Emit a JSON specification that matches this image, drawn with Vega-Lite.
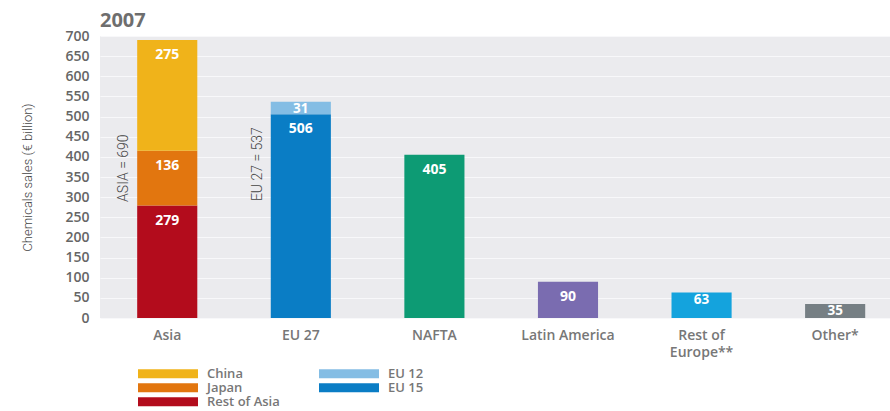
{
  "$schema": "https://vega.github.io/schema/vega-lite/v6.json",
  "width": 790,
  "height": 282,
  "autosize": "none",
  "padding": {"left": 100, "top": 36, "right": 0, "bottom": 93},
  "background": "white",
  "title": {"text": "2007", "anchor": "start", "frame": "group", "fontSize": 20, "fontWeight": "bold", "color": "#6e6e6e", "font": "Open Sans", "baseline": "alphabetic", "offset": 9, "dy": 27},
  "config": {
    "view": {"fill": "#ebebee", "stroke": null},
    "font": "Open Sans",
    "axisY": {
      "domain": false, "ticks": false, "labelOverlap": false,
      "labelFontSize": 14, "labelFontWeight": 600, "labelColor": "#666666", "labelPadding": 11,
      "gridColor": "#f8f8fa", "gridWidth": 1,
      "titleFont": "Roboto", "titleFontWeight": 300, "titleFontSize": 13,
      "titleColor": "#444444", "titlePadding": 30
    }
  },
  "datasets": {
    "bars": [
      {"region": "Asia", "part": "Rest of Asia", "value": 279, "order": 1},
      {"region": "Asia", "part": "Japan", "value": 136, "order": 2},
      {"region": "Asia", "part": "China", "value": 275, "order": 3},
      {"region": "EU 27", "part": "EU 15", "value": 506, "order": 1},
      {"region": "EU 27", "part": "EU 12", "value": 31, "order": 2},
      {"region": "NAFTA", "part": "NAFTA", "value": 405, "order": 1},
      {"region": "Latin America", "part": "Latin America", "value": 90, "order": 1},
      {"region": "Rest of Europe**", "part": "Rest of Europe", "value": 63, "order": 1},
      {"region": "Other*", "part": "Other", "value": 35, "order": 1}
    ],
    "notes": [
      {"region": "Asia", "label": "ASIA = 690", "at": 372},
      {"region": "EU 27", "label": "EU 27 = 537", "at": 382}
    ]
  },
  "encoding": {
    "x": {
      "field": "region", "type": "nominal",
      "sort": ["Asia", "EU 27", "NAFTA", "Latin America", "Rest of Europe**", "Other*"],
      "scale": {"paddingInner": 0.55, "paddingOuter": 0.232, "align": 0.6},
      "axis": {
        "title": null, "domain": false, "ticks": false, "labelAngle": 0,
        "labelFontSize": 14, "labelFontWeight": 600, "labelColor": "#777777",
        "labelPadding": 10, "labelLineHeight": 17, "labelBaseline": "top",
        "labelExpr": "datum.value == 'Rest of Europe**' ? ['Rest of', 'Europe**'] : datum.value"
      }
    }
  },
  "layer": [
    {
      "data": {"name": "bars"},
      "transform": [
        {"stack": "value", "groupby": ["region"], "sort": [{"field": "order"}], "as": ["v0", "v1"]},
        {"filter": "datum.region == 'Asia'"}
      ],
      "mark": {"type": "bar"},
      "encoding": {
        "y": {
          "field": "v1", "type": "quantitative",
          "scale": {"domain": [0, 700], "nice": false},
          "axis": {"title": "Chemicals sales (€ billion)", "values": [0, 50, 100, 150, 200, 250, 300, 350, 400, 450, 500, 550, 600, 650, 700], "labelOverlap": false}
        },
        "y2": {"field": "v0"},
        "color": {
          "field": "part", "type": "nominal",
          "scale": {"domain": ["China", "Japan", "Rest of Asia"], "range": ["#f0b31a", "#e2760f", "#b30c1c"]},
          "legend": {
            "title": null, "orient": "none", "legendX": 38, "legendY": 331,
            "symbolType": "M-1,-0.15H1V0.15H-1Z", "symbolSize": 3600, "symbolStrokeWidth": 0, "symbolOpacity": 1,
            "clipHeight": 13.5, "rowPadding": 0, "labelOffset": 9,
            "labelFontSize": 13, "labelFontWeight": 600, "labelColor": "#777777"
          }
        }
      }
    },
    {
      "data": {"name": "bars"},
      "transform": [
        {"stack": "value", "groupby": ["region"], "sort": [{"field": "order"}], "as": ["v0", "v1"]},
        {"filter": "datum.region == 'EU 27'"}
      ],
      "mark": {"type": "bar"},
      "encoding": {
        "y": {"field": "v1", "type": "quantitative", "axis": {"title": "Chemicals sales (€ billion)", "values": [0, 50, 100, 150, 200, 250, 300, 350, 400, 450, 500, 550, 600, 650, 700], "labelOverlap": false}},
        "y2": {"field": "v0"},
        "color": {
          "field": "part", "type": "nominal",
          "scale": {"domain": ["EU 12", "EU 15"], "range": ["#84bde4", "#0a7dc5"]},
          "legend": {
            "title": null, "orient": "none", "legendX": 219, "legendY": 331,
            "symbolType": "M-1,-0.15H1V0.15H-1Z", "symbolSize": 3600, "symbolStrokeWidth": 0, "symbolOpacity": 1,
            "clipHeight": 13.5, "rowPadding": 0, "labelOffset": 9,
            "labelFontSize": 13, "labelFontWeight": 600, "labelColor": "#777777"
          }
        }
      }
    },
    {
      "data": {"name": "bars"},
      "transform": [
        {"stack": "value", "groupby": ["region"], "sort": [{"field": "order"}], "as": ["v0", "v1"]},
        {"filter": "datum.region != 'Asia' && datum.region != 'EU 27'"}
      ],
      "mark": {"type": "bar"},
      "encoding": {
        "y": {"field": "v1", "type": "quantitative", "axis": {"title": "Chemicals sales (€ billion)", "values": [0, 50, 100, 150, 200, 250, 300, 350, 400, 450, 500, 550, 600, 650, 700], "labelOverlap": false}},
        "y2": {"field": "v0"},
        "color": {
          "field": "part", "type": "nominal",
          "scale": {"domain": ["NAFTA", "Latin America", "Rest of Europe", "Other"], "range": ["#0d9b74", "#7a6cb0", "#14a3dd", "#767f84"]},
          "legend": null
        }
      }
    },
    {
      "data": {"name": "bars"},
      "transform": [
        {"stack": "value", "groupby": ["region"], "sort": [{"field": "order"}], "as": ["v0", "v1"]},
        {"filter": "datum.value >= 80"}
      ],
      "mark": {"type": "text", "color": "white", "fontWeight": "bold", "fontSize": 14, "baseline": "middle", "dy": 15},
      "encoding": {
        "y": {"field": "v1", "type": "quantitative", "axis": {"title": "Chemicals sales (€ billion)", "values": [0, 50, 100, 150, 200, 250, 300, 350, 400, 450, 500, 550, 600, 650, 700], "labelOverlap": false}},
        "text": {"field": "value", "type": "quantitative"}
      }
    },
    {
      "data": {"name": "bars"},
      "transform": [
        {"stack": "value", "groupby": ["region"], "sort": [{"field": "order"}], "as": ["v0", "v1"]},
        {"filter": "datum.value < 80"}
      ],
      "mark": {"type": "text", "color": "white", "fontWeight": "bold", "fontSize": 13.5, "baseline": "middle", "dy": 7},
      "encoding": {
        "y": {"field": "v1", "type": "quantitative", "axis": {"title": "Chemicals sales (€ billion)", "values": [0, 50, 100, 150, 200, 250, 300, 350, 400, 450, 500, 550, 600, 650, 700], "labelOverlap": false}},
        "text": {"field": "value", "type": "quantitative"}
      }
    },
    {
      "data": {"name": "notes"},
      "mark": {"type": "text", "angle": 270, "align": "center", "baseline": "middle", "font": "Roboto", "fontWeight": 300, "fontSize": 14, "color": "#444444", "xOffset": -13},
      "encoding": {
        "x": {"field": "region", "type": "nominal", "bandPosition": 0},
        "y": {"field": "at", "type": "quantitative", "axis": {"title": "Chemicals sales (€ billion)", "values": [0, 50, 100, 150, 200, 250, 300, 350, 400, 450, 500, 550, 600, 650, 700], "labelOverlap": false}},
        "text": {"field": "label", "type": "nominal"}
      }
    }
  ],
  "resolve": {"scale": {"color": "independent"}}
}
